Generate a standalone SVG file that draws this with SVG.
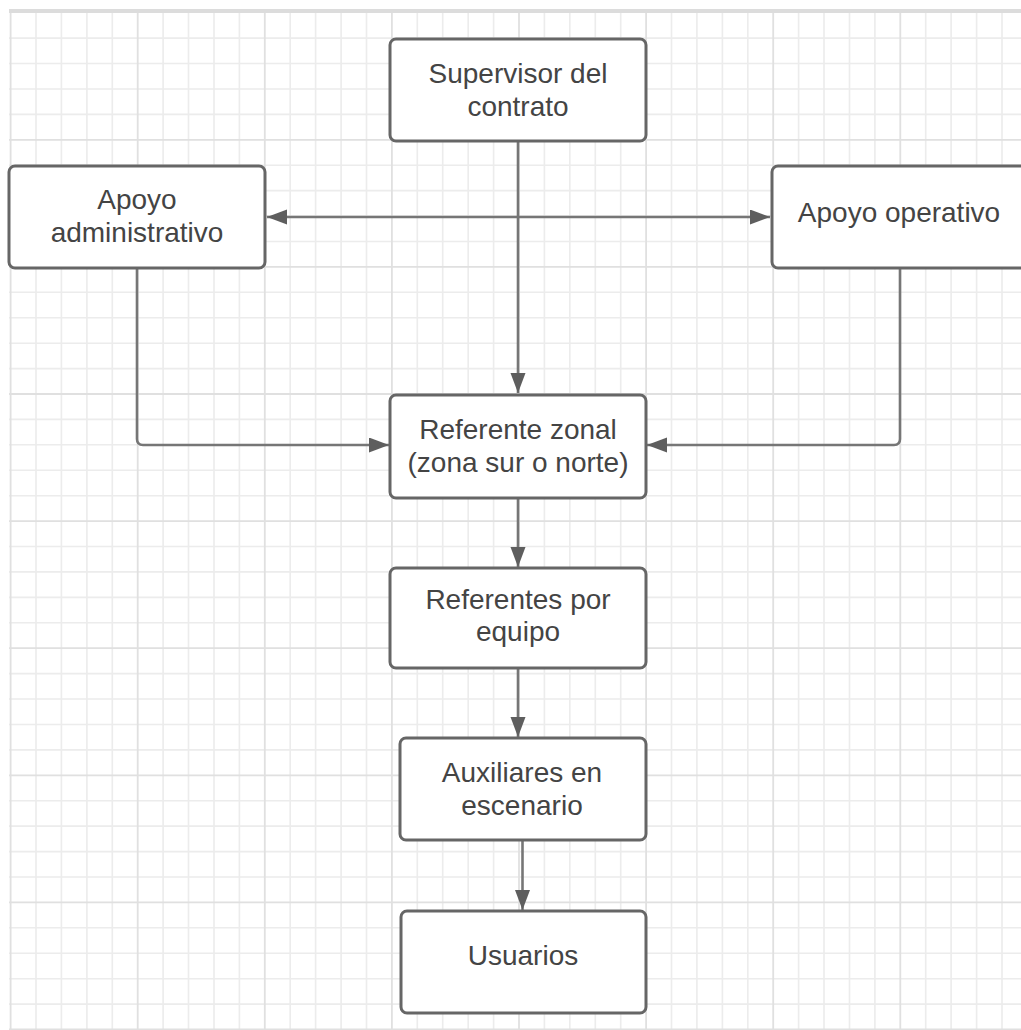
<svg xmlns="http://www.w3.org/2000/svg" width="1021" height="1030" viewBox="0 0 1021 1030">
<style>
.minor{stroke:#ececec;stroke-width:1.6;fill:none}
.major{stroke:#e0e0e0;stroke-width:1.8;fill:none}
.box{fill:#ffffff;stroke:#666666;stroke-width:3}
.lbl{font-family:"Liberation Sans",Arial,sans-serif;font-size:28px;fill:#444444;text-anchor:middle}
.conn{stroke:#767676;stroke-width:2.6;fill:none}
</style>
<defs>
<marker id="arr" markerUnits="userSpaceOnUse" markerWidth="22" markerHeight="16" refX="20" refY="7.5" orient="auto">
<path d="M0,0 L20,7.5 L0,15 Z" fill="#5e5e5e"/>
</marker>
</defs>
<rect x="0" y="0" width="1021" height="1030" fill="#ffffff"/>
<g id="grid">
<path class="minor" d="M36,11V1030M61.4,11V1030M86.9,11V1030M112.3,11V1030M163.1,11V1030M188.5,11V1030M214,11V1030M239.4,11V1030M290.2,11V1030M315.6,11V1030M341.1,11V1030M366.5,11V1030M417.3,11V1030M442.7,11V1030M468.2,11V1030M493.6,11V1030M544.4,11V1030M569.8,11V1030M595.3,11V1030M620.7,11V1030M671.5,11V1030M696.9,11V1030M722.4,11V1030M747.8,11V1030M798.6,11V1030M824,11V1030M849.5,11V1030M874.9,11V1030M925.7,11V1030M951.1,11V1030M976.6,11V1030M1002,11V1030"/>
<path class="minor" d="M9,38.1H1021M9,63.5H1021M9,89H1021M9,114.4H1021M9,165.2H1021M9,190.6H1021M9,216.1H1021M9,241.5H1021M9,292.3H1021M9,317.7H1021M9,343.2H1021M9,368.6H1021M9,419.4H1021M9,444.8H1021M9,470.3H1021M9,495.7H1021M9,546.5H1021M9,571.9H1021M9,597.4H1021M9,622.8H1021M9,673.6H1021M9,699H1021M9,724.5H1021M9,749.9H1021M9,800.7H1021M9,826.1H1021M9,851.6H1021M9,877H1021M9,927.8H1021M9,953.2H1021M9,978.7H1021M9,1004.1H1021"/>
<path class="major" d="M10.6,11V1030M137.7,11V1030M264.8,11V1030M391.9,11V1030M519,11V1030M646.1,11V1030M773.2,11V1030M900.3,11V1030"/>
<path class="major" d="M9,139.8H1021M9,266.9H1021M9,394H1021M9,521.1H1021M9,648.2H1021M9,775.3H1021M9,902.4H1021M9,1029.3H1021"/>
<rect x="9" y="9" width="1012" height="4" fill="#dcdcdc"/>
</g>
<g id="connectors">
<path class="conn" d="M518,141V393" marker-end="url(#arr)"/>
<path class="conn" d="M518,217H267" marker-end="url(#arr)"/>
<path class="conn" d="M518,217H770" marker-end="url(#arr)"/>
<path class="conn" d="M137,268V439Q137,445 143,445H389" marker-end="url(#arr)"/>
<path class="conn" d="M900,268V439Q900,445 894,445H647" marker-end="url(#arr)"/>
<path class="conn" d="M518,498V567" marker-end="url(#arr)"/>
<path class="conn" d="M518,668V737" marker-end="url(#arr)"/>
<path class="conn" d="M522.5,840V910" marker-end="url(#arr)"/>
</g>
<g id="supervisor">
<rect class="box" x="390" y="39" width="256" height="102" rx="6"/>
<text class="lbl" x="518" y="83">Supervisor del</text>
<text class="lbl" x="518" y="116">contrato</text>
</g>
<g id="apoyo-administrativo">
<rect class="box" x="9" y="166" width="256" height="102" rx="6"/>
<text class="lbl" x="137" y="209">Apoyo</text>
<text class="lbl" x="137" y="242">administrativo</text>
</g>
<g id="apoyo-operativo">
<rect class="box" x="772" y="166" width="256" height="102" rx="6"/>
<text class="lbl" x="899" y="222">Apoyo operativo</text>
</g>
<g id="referente-zonal">
<rect class="box" x="390" y="395" width="256" height="103" rx="6"/>
<text class="lbl" x="518" y="439">Referente zonal</text>
<text class="lbl" x="518" y="472">(zona sur o norte)</text>
</g>
<g id="referentes-equipo">
<rect class="box" x="390" y="568" width="256" height="100" rx="6"/>
<text class="lbl" x="518" y="609">Referentes por</text>
<text class="lbl" x="518" y="641">equipo</text>
</g>
<g id="auxiliares">
<rect class="box" x="400" y="738" width="246" height="102" rx="6"/>
<text class="lbl" x="522" y="782">Auxiliares en</text>
<text class="lbl" x="522" y="815">escenario</text>
</g>
<g id="usuarios">
<rect class="box" x="401" y="911" width="245" height="102" rx="6"/>
<text class="lbl" x="523" y="965">Usuarios</text>
</g>
</svg>
